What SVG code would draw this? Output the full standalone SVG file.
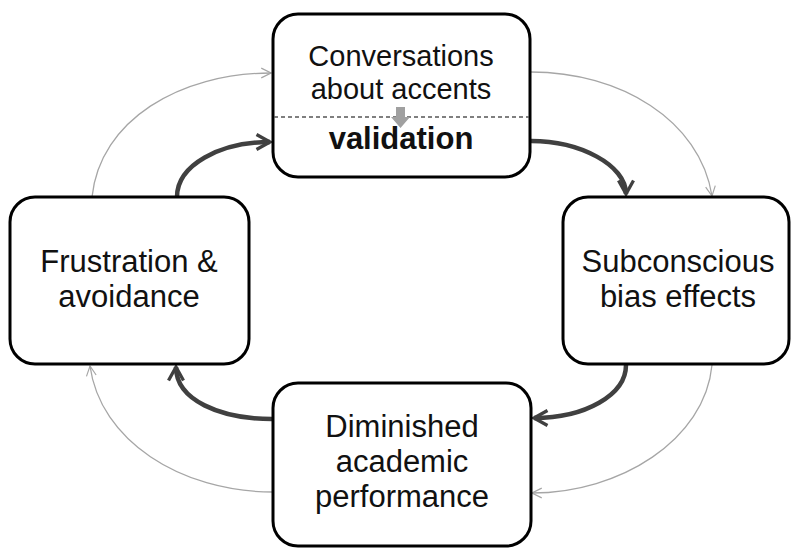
<svg xmlns="http://www.w3.org/2000/svg" width="796" height="549" viewBox="0 0 796 549">
<style>
.box{fill:#fff;stroke:#000;stroke-width:3}
.t{font-family:"Liberation Sans",Arial,sans-serif;font-size:31px;fill:#111;text-anchor:middle}
.s{font-size:29px}
.b{font-weight:bold}
.thick{fill:none;stroke:#404040;stroke-width:4.5}
.thin{fill:none;stroke:#a6a6a6;stroke-width:1.3}
</style>
<defs>
<marker id="ah" viewBox="0 0 12 12" refX="10" refY="6" markerWidth="4" markerHeight="4" orient="auto" markerUnits="strokeWidth">
<path d="M1,1 L10,6 L1,11" fill="none" stroke="#404040" stroke-width="2.2" stroke-linejoin="miter"/>
</marker>
<marker id="ahl" viewBox="0 0 12 12" refX="11" refY="6" markerWidth="9" markerHeight="9" orient="auto" markerUnits="strokeWidth">
<path d="M1,1 L11,6 L1,11" fill="none" stroke="#a6a6a6" stroke-width="1.2"/>
</marker>
</defs>
<g id="connectors">
<path class="thin" d="M92,197 C100,120 180,73 271,73" marker-end="url(#ahl)"/>
<path class="thin" d="M531,72 C620,72 700,120 712,196" marker-end="url(#ahl)"/>
<path class="thin" d="M712,365 C705,440 620,493 532,493" marker-end="url(#ahl)"/>
<path class="thin" d="M273,492 C180,492 100,440 90,366" marker-end="url(#ahl)"/>
<path class="thick" d="M177,197 C177,165 220,142 270,142" marker-end="url(#ah)"/>
<path class="thick" d="M531,141 C580,141 626,165 626,194" marker-end="url(#ah)"/>
<path class="thick" d="M626,365 C626,395 585,418 534,418" marker-end="url(#ah)"/>
<path class="thick" d="M272,419 C220,419 176,400 176,367" marker-end="url(#ah)"/>
</g>
<g id="top">
<rect class="box" x="273" y="14" width="257" height="163" rx="25"/>
<text class="t s" x="401" y="66">Conversations</text>
<text class="t s" x="401" y="99">about accents</text>
<line x1="274" y1="117" x2="529" y2="117" stroke="#555" stroke-width="1.3" stroke-dasharray="4,3"/>
<path d="M396,107 H405 V117 H410 L400.5,128 L391,117 H396 Z" fill="#a0a0a0"/>
<text class="t b" x="401" y="149">validation</text>
</g>
<g id="right">
<rect class="box" x="563" y="197" width="226" height="167" rx="25"/>
<text class="t" x="678" y="272">Subconscious</text>
<text class="t" x="678" y="307">bias effects</text>
</g>
<g id="bottom">
<rect class="box" x="273" y="383" width="258" height="163" rx="25"/>
<text class="t" x="402" y="437">Diminished</text>
<text class="t" x="402" y="472">academic</text>
<text class="t" x="402" y="507">performance</text>
</g>
<g id="left">
<rect class="box" x="10" y="197" width="239" height="167" rx="25"/>
<text class="t" x="129" y="272">Frustration &amp;</text>
<text class="t" x="129" y="307">avoidance</text>
</g>
</svg>
